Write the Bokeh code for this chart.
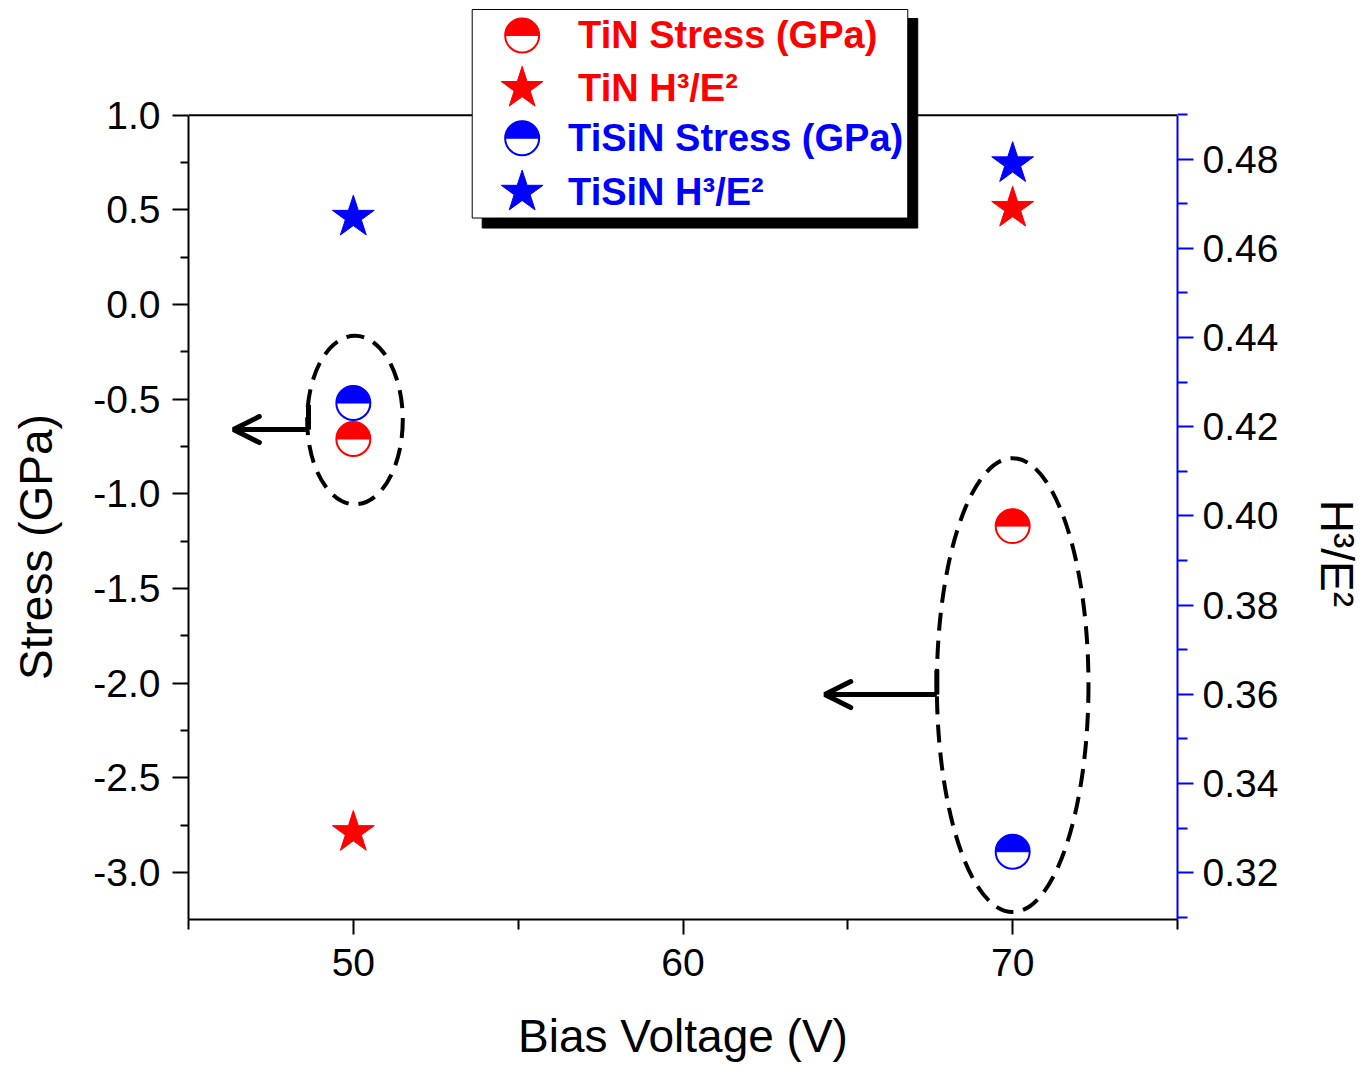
from math import pi
from bokeh.plotting import figure
from bokeh.models import (Range1d, LinearAxis, FixedTicker, PrintfTickFormatter,
                          Arrow, OpenHead)
from bokeh.core.properties import value
from bokeh.embed import file_html
from bokeh.resources import INLINE

# ---------------- data ----------------
bias_voltage = [50, 70]
tin_stress = [-0.71, -1.17]
tisin_stress = [-0.52, -2.89]
tin_h3e2 = [0.329, 0.469]
tisin_h3e2 = [0.467, 0.479]

x_major_ticks = [50, 60, 70]
x_minor_ticks = [45, 55, 65, 75]
stress_ticks = [-3.0, -2.5, -2.0, -1.5, -1.0, -0.5, 0.0, 0.5, 1.0]
stress_minor = [-3.25, -2.75, -2.25, -1.75, -1.25, -0.75, -0.25, 0.25, 0.75]
h_ticks = [0.32, 0.34, 0.36, 0.38, 0.40, 0.42, 0.44, 0.46, 0.48]
h_minor = [0.31, 0.33, 0.35, 0.37, 0.39, 0.41, 0.43, 0.45, 0.47, 0.49]

legend_labels = ["TiN Stress (GPa)", "TiN H³/E²", "TiSiN Stress (GPa)", "TiSiN H³/E²"]
legend_colors = ["#ff0000", "#ff0000", "#0000ff", "#0000ff"]

# annotation (ellipses + arrows) in data units
ellipse_x = [50.05, 70.0]
ellipse_y = [-0.61, -2.01]
ellipse_w = [2.9, 4.6]
ellipse_h = [0.89, 2.40]
arrow_x_start = [48.64, 67.7]
arrow_x_end = [46.36, 64.3]
arrow_y = [-0.66, -2.06]
arrow_y_top = [-0.53, -1.93]

# ---------------- ranges ----------------
X_MIN, X_MAX = 45, 75
Y_MIN, Y_MAX = -3.248, 1.564      # frame (extended upward to hold the legend)
STRESS_TOP = 1.0
H_MIN, H_MAX = 0.30948, 0.5138
H_TOP = 0.4898

RED = "#ff0000"
BLUE = "#0000ff"
FONT = "Liberation Sans"
NBSP = "\u00a0"

W, H = 1365, 1064
ML, MR, MT, MB = 188, 187, 8, 143
FW, FH = W - ML - MR, H - MT - MB

p = figure(width=W, height=H, title=None, output_backend="svg", toolbar_location=None,
           x_range=Range1d(X_MIN, X_MAX), y_range=Range1d(Y_MIN, Y_MAX),
           min_border_left=ML, min_border_right=MR, min_border_top=MT, min_border_bottom=MB,
           x_axis_location=None, y_axis_location=None)
p.outline_line_color = None
p.grid.visible = False
p.background_fill_color = "white"
p.border_fill_color = "white"
p.extra_y_ranges = {"h": Range1d(H_MIN, H_MAX)}

# helpers: page pixel -> data, for decorations only
def px2x(px):
    return X_MIN + (px - ML) / FW * (X_MAX - X_MIN)

def px2y(py):
    return Y_MAX - (py - MT) / FH * (Y_MAX - Y_MIN)

def style_axis(ax, color, tick_out, minor_out, standoff):
    ax.axis_line_color = color
    ax.axis_line_width = 2
    ax.major_tick_line_color = color
    ax.minor_tick_line_color = color
    ax.major_tick_line_width = 2
    ax.minor_tick_line_width = 2
    ax.major_tick_out = tick_out
    ax.major_tick_in = 0
    ax.minor_tick_out = minor_out
    ax.minor_tick_in = 0
    ax.major_label_text_font = FONT
    ax.major_label_text_font_size = "39px"
    ax.major_label_text_color = "black"
    ax.major_label_standoff = standoff

def style_label(ax, text, standoff):
    ax.axis_label = text
    ax.axis_label_text_font = FONT
    ax.axis_label_text_font_size = "46px"
    ax.axis_label_text_font_style = "normal"
    ax.axis_label_text_color = "black"
    ax.axis_label_standoff = standoff

xaxis = LinearAxis(ticker=FixedTicker(ticks=x_major_ticks, minor_ticks=x_minor_ticks),
                   formatter=PrintfTickFormatter(format="%d"))
style_axis(xaxis, "black", 15, 10, 14)
style_label(xaxis, "Bias Voltage (V)", 31)
p.add_layout(xaxis, "below")

yaxis = LinearAxis(ticker=FixedTicker(ticks=stress_ticks, minor_ticks=stress_minor),
                   formatter=PrintfTickFormatter(format="%.1f"), bounds=(Y_MIN, STRESS_TOP))
style_axis(yaxis, "black", 16, 8, 12)
p.add_layout(yaxis, "left")

raxis = LinearAxis(y_range_name="h", ticker=FixedTicker(ticks=h_ticks, minor_ticks=h_minor),
                   formatter=PrintfTickFormatter(format="%.2f"), bounds=(H_MIN, H_TOP))
style_axis(raxis, BLUE, 16, 10, 9)
p.add_layout(raxis, "right")

# title-only axes (no line, no ticks) carrying the side titles
def title_axis(text, standoff, y_range_name="default"):
    ax = LinearAxis(y_range_name=y_range_name, ticker=FixedTicker(ticks=[], minor_ticks=[]))
    ax.axis_line_color = None
    ax.major_tick_line_color = None
    ax.minor_tick_line_color = None
    ax.major_tick_out = 0
    ax.minor_tick_out = 0
    ax.major_tick_in = 0
    ax.minor_tick_in = 0
    style_label(ax, text, standoff)
    return ax

# non-breaking padding shifts the centred titles down to where the reference has them
p.add_layout(title_axis("Stress (GPa)" + NBSP * 13, 29), "left")
p.add_layout(title_axis(NBSP * 14 + "H³/E²", 29, "h"), "right")

# top frame line
p.segment(x0=[X_MIN], y0=[STRESS_TOP], x1=[X_MAX], y1=[STRESS_TOP], line_color="black", line_width=2)

# ---------------- annotations: ellipses + arrows ----------------
p.ellipse(x=ellipse_x, y=ellipse_y, width=ellipse_w, height=ellipse_h,
          fill_alpha=0, line_color="black", line_width=4, line_dash="18 10")
for xs, xe, yy, yt in zip(arrow_x_start, arrow_x_end, arrow_y, arrow_y_top):
    p.segment(x0=[xs], y0=[yy], x1=[xs], y1=[yt], line_color="black", line_width=5)
    p.add_layout(Arrow(end=OpenHead(size=26, line_width=5, line_color="black", line_cap="round"),
                       x_start=xs, y_start=yy, x_end=xe, y_end=yy,
                       line_width=5, line_color="black"))

# ---------------- data marks ----------------
def half_circle(xs, ys, color, y_range_name="default"):
    p.scatter(xs, ys, marker="circle", size=34, fill_color="white", line_color=color,
              line_width=2, y_range_name=y_range_name)
    p.wedge(xs, ys, radius=17, radius_units="screen", start_angle=0, end_angle=pi,
            fill_color=color, line_color=color, line_width=1, y_range_name=y_range_name)

half_circle(bias_voltage, tin_stress, RED)
half_circle(bias_voltage, tisin_stress, BLUE)
p.scatter(bias_voltage, tin_h3e2, marker="star", size=44, fill_color=RED, line_color=RED,
          y_range_name="h")
p.scatter(bias_voltage, tisin_h3e2, marker="star", size=44, fill_color=BLUE, line_color=BLUE,
          y_range_name="h")

# ---------------- legend (drawn by hand) ----------------
p.quad(left=[px2x(482)], right=[px2x(918)], top=[px2y(18)], bottom=[px2y(228)],
       fill_color="black", line_color="black")
p.quad(left=[px2x(472)], right=[px2x(908)], top=[px2y(9)], bottom=[px2y(218)],
       fill_color="white", line_color="black", line_width=1)
row_y = [px2y(35), px2y(88), px2y(138), px2y(192)]
mx = px2x(522)
half_circle([mx], [row_y[0]], RED)
p.scatter([mx], [row_y[1]], marker="star", size=44, fill_color=RED, line_color=RED)
half_circle([mx], [row_y[2]], BLUE)
p.scatter([mx], [row_y[3]], marker="star", size=44, fill_color=BLUE, line_color=BLUE)
text_x = [px2x(578), px2x(578), px2x(568), px2x(568)]
p.text(x=text_x, y=row_y, text=legend_labels, text_color=legend_colors,
       text_font=value(FONT), text_font_style="bold", text_font_size="38px",
       text_baseline="middle", text_align="left")

open("out.html", "w").write(file_html(p, INLINE))
